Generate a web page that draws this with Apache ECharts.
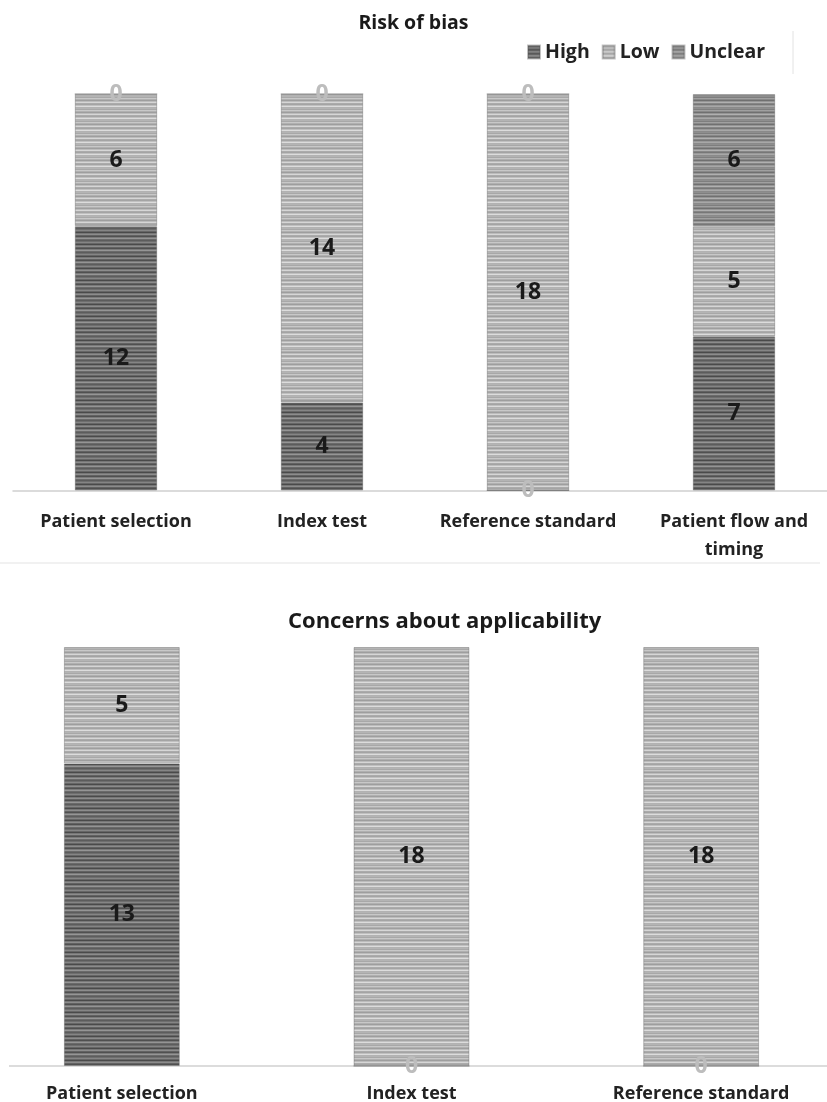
<!DOCTYPE html>
<html>
<head>
<meta charset="utf-8">
<script src="https://cdn.jsdelivr.net/npm/echarts@6/dist/echarts.min.js"></script>
<style>
  html, body { margin: 0; padding: 0; background: #fff; }
  #chart { width: 827px; height: 1102px; }
</style>
</head>
<body>
<div id="chart"></div>
<script>
// 数据
var biasCategories = ['Patient selection', 'Index test', 'Reference standard', 'Patient flow and\ntiming'];
var biasHigh = [12, 4, 0, 7];
var biasLow = [6, 14, 18, 5];
var biasUnclear = [0, 0, 0, 6];

var appCategories = ['Patient selection', 'Index test', 'Reference standard'];
var appHigh = [13, 0, 0];
var appLow = [5, 18, 18];

var legendNames = ['High', 'Low', 'Unclear'];

var FONT = 'Open Sans';

/*条纹填充*/
function make_stripes(rows) {
    var c = document.createElement('canvas');
    c.width = 8;
    c.height = rows.length;
    var ctx = c.getContext('2d');
    for (let i = 0; i < rows.length; i++) {
        ctx.fillStyle = rows[i];
        ctx.fillRect(0, i, 8, 1);
    }
    return { image: c, repeat: 'repeat' };
}

var fillHigh = make_stripes(['#5c5c5c', '#6e6e6e', '#858585', '#666666', '#4a4a4a', '#777777',
    '#8c8c8c', '#626262', '#505050', '#7a7a7a', '#959595', '#6a6a6a']);
var fillLow = make_stripes(['#b4b4b4', '#a8a8a8', '#c8c8c8', '#b0b0b0', '#9e9e9e', '#bcbcbc',
    '#d6d6d6', '#ababab', '#a4a4a4', '#c0c0c0', '#dcdcdc', '#b2b2b2']);
var fillUnclear = make_stripes(['#8e8e8e', '#7e7e7e', '#a0a0a0', '#888888', '#707070', '#959595',
    '#b0b0b0', '#868686', '#777777', '#999999', '#a8a8a8', '#8a8a8a']);

function to_items(arr) {
    // 0值标签用浅灰色
    return arr.map(function (v) {
        if (v === 0) {
            return { value: v, label: { color: '#bdbdbd' } };
        }
        return v;
    });
}

function bar_series(name, data, fill, axisIdx) {
    return {
        name: name,
        type: 'bar',
        stack: 'total' + axisIdx,
        xAxisIndex: axisIdx,
        yAxisIndex: axisIdx,
        barWidth: '40%',
        data: to_items(data),
        itemStyle: { color: fill, borderColor: 'rgba(80,80,80,0.35)', borderWidth: 1 },
        label: {
            show: true,
            position: 'inside',
            fontFamily: FONT,
            fontWeight: 'bold',
            fontSize: 23,
            color: '#1a1a1a'
        },
        emphasis: { disabled: true }
    };
}

var axisLabelStyle = {
    fontFamily: FONT,
    fontWeight: 'bold',
    fontSize: 18,
    color: '#222',
    lineHeight: 28,
    interval: 0
};

var myChart = echarts.init(document.getElementById('chart'));
var option = {
    animation: false,
    backgroundColor: '#fff',
    title: [
        {
            text: 'Risk of bias', left: 'center', top: 8,
            textStyle: { fontFamily: FONT, fontWeight: 'bold', fontSize: 19.5, color: '#1a1a1a' }
        },
        {
            text: 'Concerns about applicability', left: 283, top: 606,
            textStyle: { fontFamily: FONT, fontWeight: 'bold', fontSize: 22, color: '#1a1a1a' }
        }
    ],
    legend: {
        data: legendNames,
        left: 522,
        top: 37,
        itemWidth: 12,
        itemHeight: 13,
        itemGap: 12,
        icon: 'rect',
        textStyle: { fontFamily: FONT, fontWeight: 'bold', fontSize: 19.5, color: '#222' }
    },
    grid: [
        { left: 13, width: 824, top: 94, height: 396.5, outerBoundsMode: 'none' },
        { left: -23, width: 869, top: 647, height: 419, outerBoundsMode: 'none' }
    ],
    xAxis: [
        {
            type: 'category', gridIndex: 0, data: biasCategories,
            axisLine: { lineStyle: { color: '#d0d0d0', width: 1.5 } },
            axisTick: { show: false },
            axisLabel: Object.assign({ margin: 17 }, axisLabelStyle)
        },
        {
            type: 'category', gridIndex: 1, data: appCategories,
            axisLine: { lineStyle: { color: '#d0d0d0', width: 1.5 } },
            axisTick: { show: false },
            axisLabel: Object.assign({ margin: 14 }, axisLabelStyle)
        }
    ],
    yAxis: [
        { type: 'value', gridIndex: 0, min: 0, max: 18, show: false },
        { type: 'value', gridIndex: 1, min: 0, max: 18, show: false }
    ],
    graphic: [
        {
            type: 'line', silent: true,
            shape: { x1: 0, y1: 563, x2: 820, y2: 563 },
            style: { stroke: '#ececec', lineWidth: 1.5 }
        },
        {
            type: 'line', silent: true,
            shape: { x1: 793, y1: 31, x2: 793, y2: 74 },
            style: { stroke: '#e2e2e2', lineWidth: 1 }
        },
        {
            // 底部坐标轴左侧留白
            type: 'rect', silent: true, z: 100,
            shape: { x: 0, y: 1060, width: 9, height: 12 },
            style: { fill: '#fff' }
        }
    ],
    series: [
        bar_series('High', biasHigh, fillHigh, 0),
        bar_series('Low', biasLow, fillLow, 0),
        bar_series('Unclear', biasUnclear, fillUnclear, 0),
        bar_series('High', appHigh, fillHigh, 1),
        bar_series('Low', appLow, fillLow, 1)
    ]
};
myChart.setOption(option);
</script>
</body>
</html>
